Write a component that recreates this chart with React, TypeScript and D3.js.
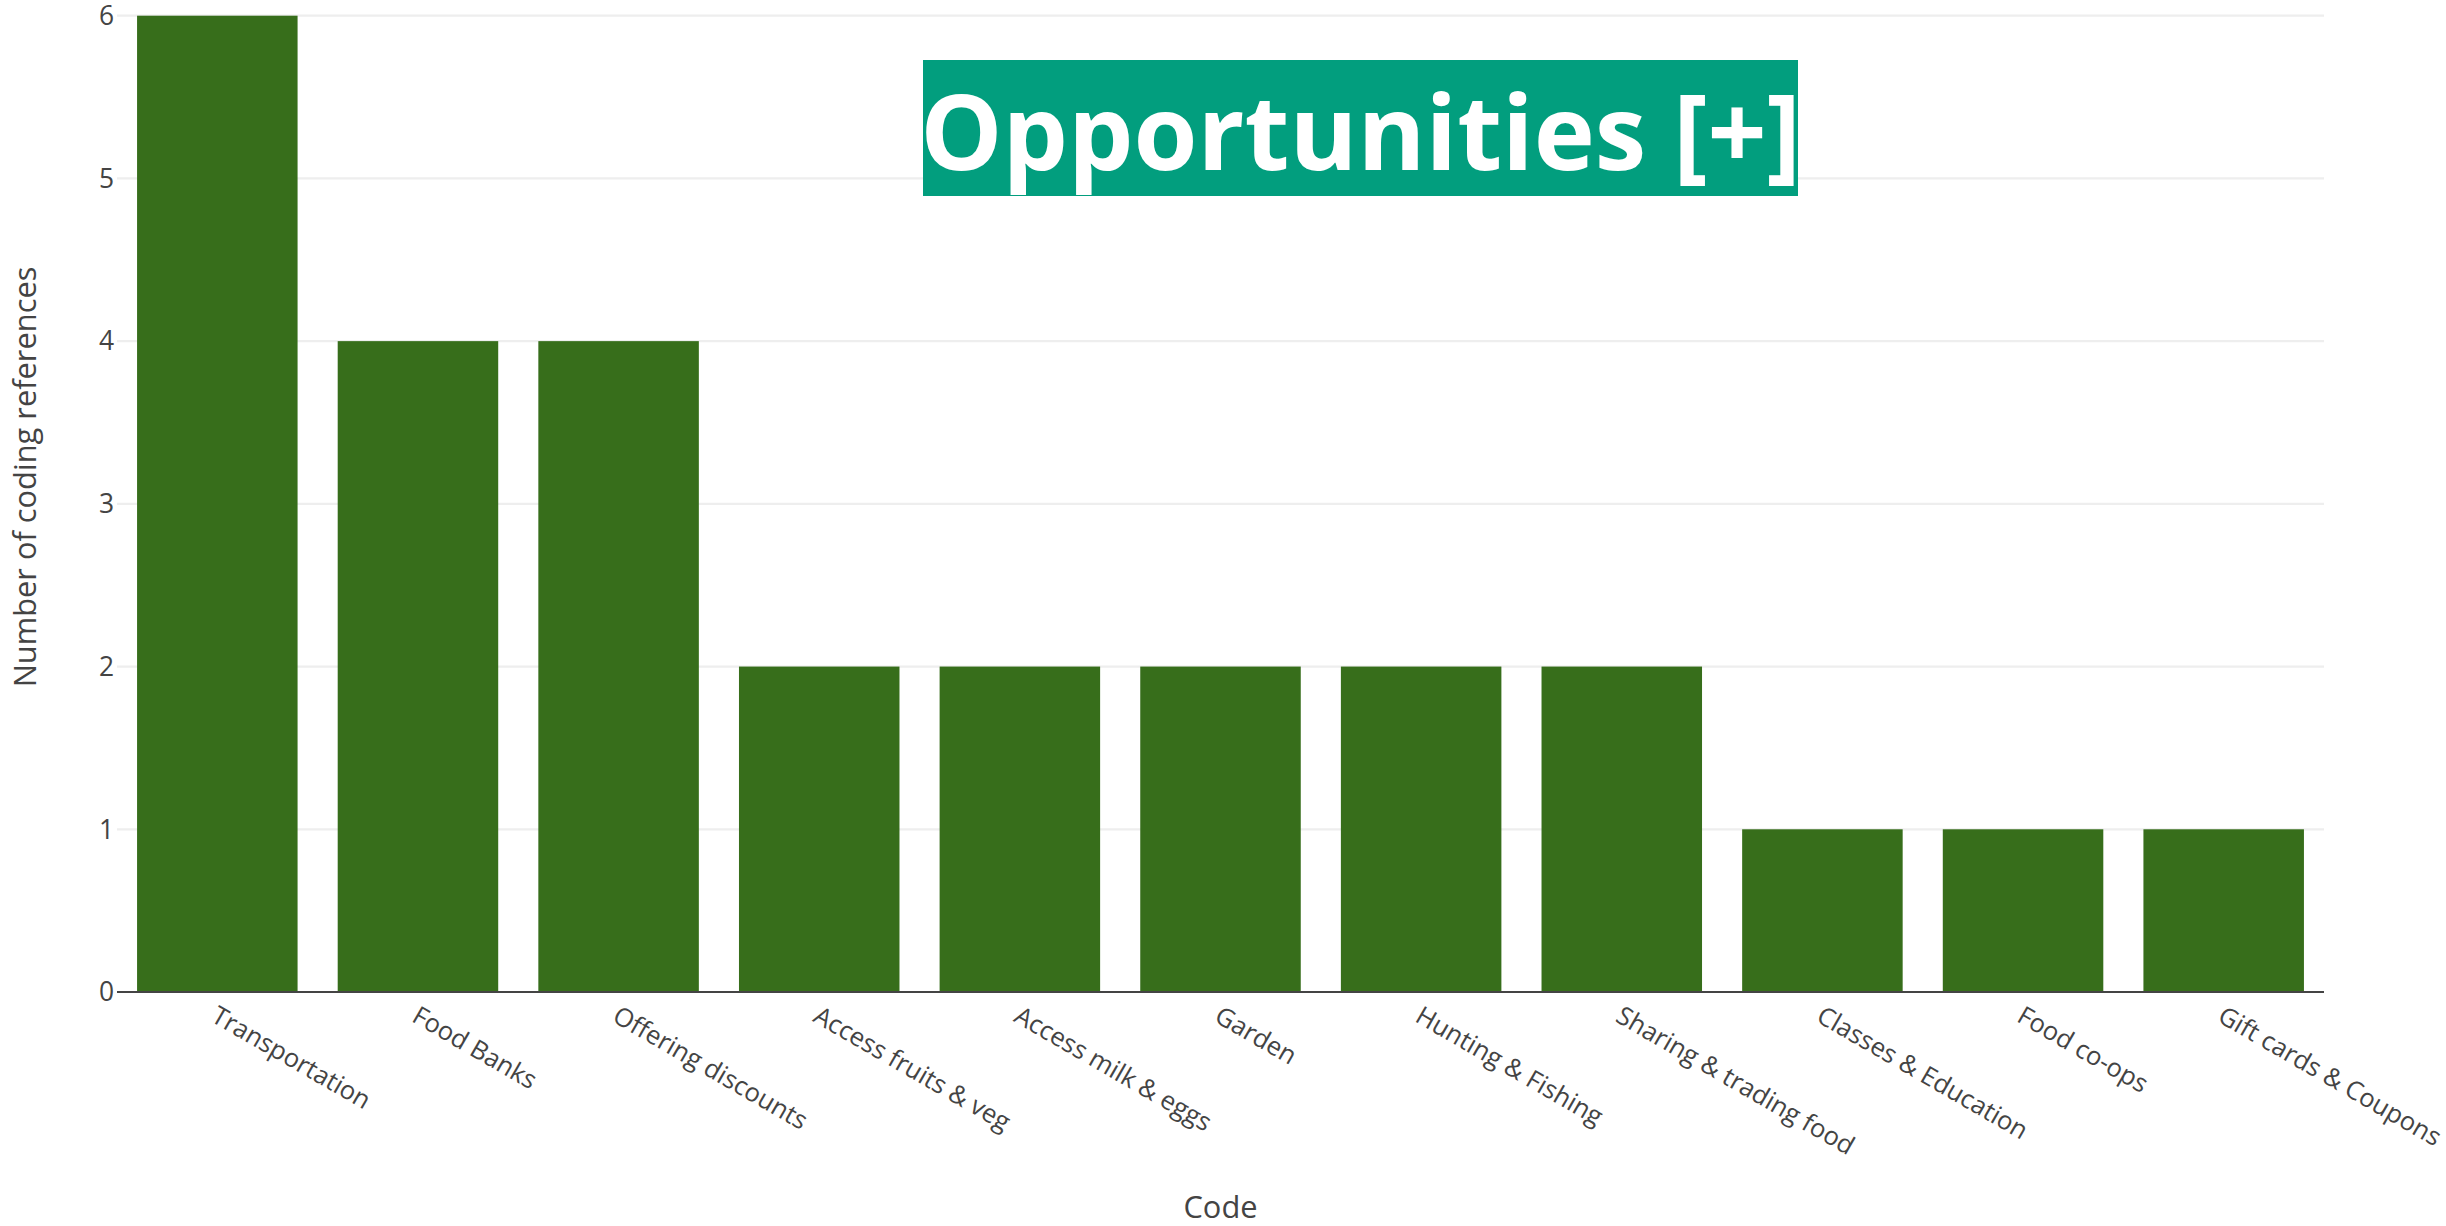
import React from "react";
import * as d3 from "d3";

const categories = [
  "Transportation",
  "Food Banks",
  "Offering discounts",
  "Access fruits & veg",
  "Access milk & eggs",
  "Garden",
  "Hunting & Fishing",
  "Sharing & trading food",
  "Classes & Education",
  "Food co-ops",
  "Gift cards & Coupons",
];
const values = [6, 4, 4, 2, 2, 2, 2, 2, 1, 1, 1];
const yTicks = [0, 1, 2, 3, 4, 5, 6];
const titleText = "Opportunities [+]";
const xTitle = "Code";
const yTitle = "Number of coding references";

const W = 2446;
const H = 1226;
const left = 117;
const right = 2324;
const top = 15.7;
const bottom = 992;

const FONT = "'Open Sans', 'Noto Sans', sans-serif";
const TEXT = "#444";
const BAR = "#376e1b";
const BOX = "#029e7e";

export default function App() {
  const x = d3
    .scaleBand<string>()
    .domain(categories)
    .range([left, right])
    .paddingInner(0.2)
    .paddingOuter(0.1);
  const y = d3.scaleLinear().domain([0, 6]).range([bottom, top]);

  return (
    <svg
      width={W}
      height={H}
      style={{ position: "absolute", left: 0, top: 0, display: "block", background: "#fff" }}
      fontFamily={FONT}
    >
      {yTicks
        .filter((t) => t !== 0)
        .map((t) => (
          <line key={t} x1={left} x2={right} y1={y(t)} y2={y(t)} stroke="#eee" strokeWidth={2.2} />
        ))}
      {categories.map((c, i) => (
        <rect
          key={c}
          x={x(c)}
          y={y(values[i])}
          width={x.bandwidth()}
          height={y(0) - y(values[i])}
          fill={BAR}
        />
      ))}
      <line x1={left} x2={right} y1={y(0)} y2={y(0)} stroke="#444" strokeWidth={2} />
      {yTicks.map((t) => (
        <text key={t} x={114} y={y(t)} dy="0.35em" textAnchor="end" fontSize={26.4} fill={TEXT}>
          {t}
        </text>
      ))}
      {categories.map((c) => {
        const cx = (x(c) as number) + x.bandwidth() / 2;
        return (
          <text
            key={c}
            transform={`translate(${cx - 3},${y(0) + 21}) rotate(30)`}
            dy="0.35em"
            textAnchor="start"
            fontSize={25.6}
            fill={TEXT}
          >
            {c}
          </text>
        );
      })}
      <text x={(left + right) / 2} y={1218} textAnchor="middle" fontSize={30.8} fill={TEXT}>
        {xTitle}
      </text>
      <text
        transform={`translate(36,477) rotate(-90)`}
        textAnchor="middle"
        fontSize={30.8}
        fill={TEXT}
      >
        {yTitle}
      </text>
      <rect x={923} y={60} width={875} height={136} fill={BOX} />
      <text
        x={1360.5}
        y={170}
        textAnchor="middle"
        fontSize={103.5}
        fontWeight={700}
        fill="#fff"
      >
        {titleText}
      </text>
    </svg>
  );
}
